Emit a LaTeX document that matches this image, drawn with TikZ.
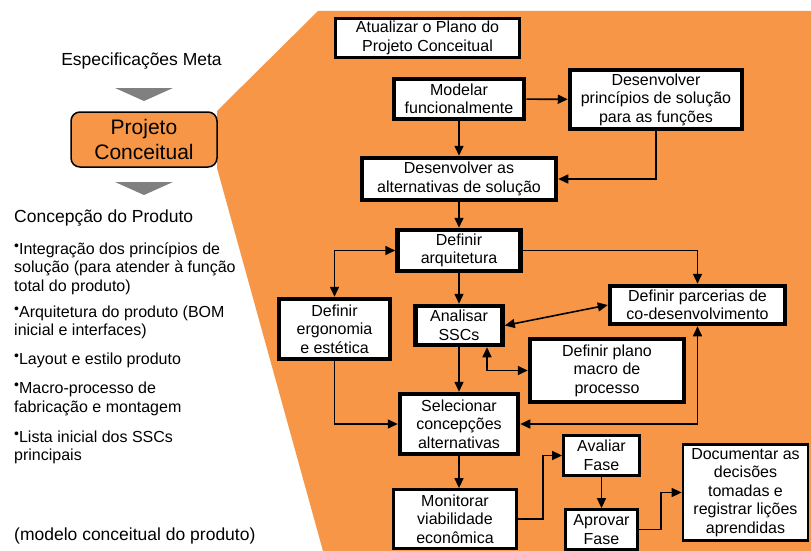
\documentclass[tikz,border=0pt]{standalone}
\usepackage{fontspec}
\setmainfont{Liberation Sans}
\usetikzlibrary{arrows.meta}
\definecolor{fase}{RGB}{247,150,70}
\definecolor{setacinza}{RGB}{128,128,128}
\newcommand\pto{{\fontsize{14}{14}\selectfont\raisebox{4pt}{•}}}

\begin{document}
\begin{tikzpicture}[x=1pt,y=-1pt,
    caixa/.style={draw,fill=white,line width=2.8pt,inner sep=0pt,align=center,
      font=\fontsize{16}{18.5}\selectfont},
    forte/.style={caixa,line width=4.5pt},
    fluxo/.style={line width=1.6pt,-{Triangle[length=10pt,width=9pt]}},
    duplo/.style={line width=1.6pt,{Triangle[length=10pt,width=9pt]}-{Triangle[length=10pt,width=9pt]}},
    item/.style={anchor=base west,inner sep=0pt,align=left,font=\fontsize{16}{18.5}\selectfont}]
  \useasboundingbox (0,0) rectangle (811,551);
  % fundo da fase
  \fill[fase] (318,11) -- (811,11) -- (811,551) -- (323,551) -- (217,168) -- (217,111) -- cycle;
  % lado esquerdo (base = ultima linha)
  \node[font=\fontsize{17.5}{21}\selectfont] (meta) at (141.5,61) {Especificações Meta};
  \fill[setacinza] (115,88) -- (173,88) -- (144,101) -- cycle;
  \node[draw,fill=fase,line width=1.5pt,rounded corners=9pt,minimum width=146,minimum height=55,
    inner sep=0pt,align=center,font=\fontsize{21}{25}\selectfont] (pc) at (144,139.5) {Projeto\\Conceitual};
  \fill[setacinza] (115,182) -- (173,182) -- (144,195) -- cycle;
  \node[item,font=\fontsize{17.5}{21}\selectfont] (concep) at (14,222) {Concepção do Produto};
  \node[item] (b1) at (14,291) {\pto Integração dos princípios de\\solução (para atender à função\\total do produto)};
  \node[item] (b2) at (14,335.5) {\pto Arquitetura do produto (BOM\\inicial e interfaces)};
  \node[item] (b3) at (14,364) {\pto Layout e estilo produto};
  \node[item] (b4) at (14,412) {\pto Macro-processo de\\fabricação e montagem};
  \node[item] (b5) at (14,460.5) {\pto Lista inicial dos SSCs\\principais};
  \node[item,font=\fontsize{17.5}{21}\selectfont] (modelo) at (14,540) {(modelo conceitual do produto)};
  % atividades
  \node[caixa,minimum width=184,minimum height=39] (atual) at (427.5,38) {Atualizar o Plano do\\Projeto Conceitual};
  \node[forte,minimum width=130,minimum height=40] (modelar) at (459,99) {Modelar\\funcionalmente};
  \node[forte,minimum width=172,minimum height=59] (princ) at (656,99.5) {Desenvolver\\princípios de solução\\para as funções};
  \node[forte,minimum width=194,minimum height=42] (altern) at (459,179) {Desenvolver as\\alternativas de solução};
  \node[forte,minimum width=123,minimum height=41] (arq) at (459,250.5) {Definir\\arquitetura};
  \node[forte,minimum width=111,minimum height=60] (ergo) at (334.5,329) {Definir\\ergonomia\\e estética};
  \node[forte,minimum width=87,minimum height=39] (analisar) at (459,325.5) {Analisar\\SSCs};
  \node[forte,minimum width=175,minimum height=38] (parc) at (697.5,305) {Definir parcerias de\\co-desenvolvimento};
  \node[forte,minimum width=154,minimum height=63] (plano) at (607,370.5) {Definir plano\\macro de\\processo};
  \node[forte,minimum width=118,minimum height=60] (selec) at (459,424) {Selecionar\\concepções\\alternativas};
  \node[caixa,minimum width=76,minimum height=40] (avaliar) at (601.5,455.5) {Avaliar\\Fase};
  \node[caixa,minimum width=123,minimum height=59] (monitor) at (455,519) {Monitorar\\viabilidade\\econômica};
  \node[caixa,minimum width=72,minimum height=40] (aprovar) at (601.5,529.5) {Aprovar\\Fase};
  \node[caixa,minimum width=125,minimum height=96] (doc) at (745.5,492.5) {Documentar as\\decisões\\tomadas e\\registrar lições\\aprendidas};
  % ligacoes
  \draw[fluxo] (modelar) -- (princ);
  \draw[fluxo] (modelar) -- (altern);
  \draw[fluxo] (princ.south) |- (altern.east);
  \draw[fluxo] (altern) -- (arq);
  \draw[duplo] (ergo.north) |- (arq.west);
  \draw[fluxo] (arq.east) -| (parc.north);
  \draw[fluxo] (arq) -- (analisar);
  \draw[duplo] (analisar.east) -- (parc.west);
  \draw[duplo] ([xshift=28pt]analisar.south) |- (plano.west);
  \draw[fluxo] (analisar) -- (selec);
  \draw[fluxo] (ergo.south) |- (selec.west);
  \draw[duplo] (parc.south) |- (selec.east);
  \draw[fluxo] (selec.south) -- (selec.south |- monitor.north);
  \draw[fluxo] (monitor.east) -- ++(25,0) |- (avaliar.west);
  \draw[fluxo] (avaliar) -- (aprovar);
  \draw[fluxo] (aprovar.east) -- ++(22,0) |- (doc.west);
\end{tikzpicture}
\end{document}
